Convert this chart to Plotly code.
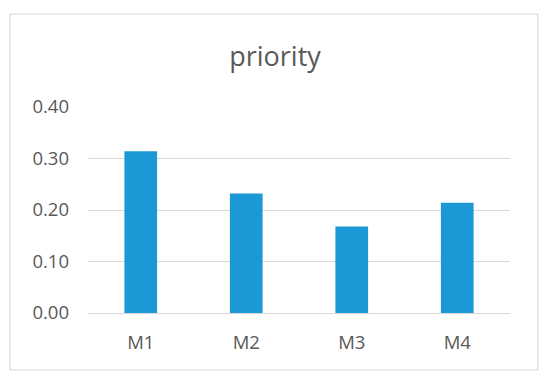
import plotly.graph_objects as go

categories = ["M1", "M2", "M3", "M4"]
priority = [0.314, 0.232, 0.168, 0.214]
tick_vals = [0.0, 0.1, 0.2, 0.3, 0.4]
tick_text = ["0.00", "0.10", "0.20", "0.30", "0.40"]

# page body adds an 8px offset; layout coordinates below are figure-relative
OFF = 8
W, H = 550, 385
L, T = 88 - OFF, 107 - OFF
pw, ph = 422, 206
R = W - L - pw
B = H - T - ph

def px(x):
    return (x - OFF - L) / pw

def py(y):
    return (T + ph - (y - OFF)) / ph

fig = go.Figure(go.Bar(x=categories, y=priority, marker_color="#1b98d5",
                       marker_line_width=0))

fig.update_layout(
    width=W, height=H,
    margin=dict(l=L, r=R, t=T, b=B),
    paper_bgcolor="white", plot_bgcolor="white",
    bargap=0.69,
    showlegend=False,
    font=dict(family="Open Sans, Noto Sans, sans-serif", color="#595959"),
    title=dict(text="priority", x=(275 - OFF) / W, xanchor="center", xref="container",
               y=1 - (57 - OFF) / H, yanchor="middle", yref="container",
               font=dict(size=27, color="#595959")),
    shapes=[dict(type="rect", xref="paper", yref="paper",
                 x0=px(10), x1=px(538), y0=py(370), y1=py(14),
                 line=dict(color="#d9d9d9", width=1.2), layer="below")],
)
fig.update_yaxes(range=[0, 0.4], tickvals=tick_vals, ticktext=tick_text,
                 showgrid=True, gridcolor="#d9d9d9", gridwidth=1,
                 zeroline=True, zerolinecolor="#d9d9d9", zerolinewidth=1,
                 tickfont=dict(size=18.5, color="#595959"), ticks="",
                 ticklabelstandoff=18, showline=False)
fig.update_xaxes(showgrid=False, showline=False, ticks="",
                 tickfont=dict(size=18.5, color="#595959"), ticklabelstandoff=16)

fig.write_html("out.html")
